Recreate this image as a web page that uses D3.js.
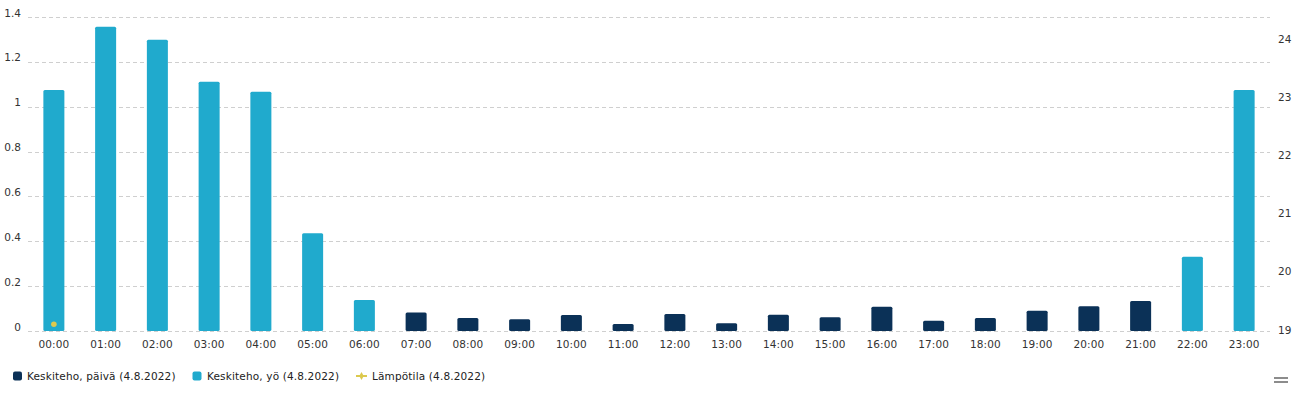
<!DOCTYPE html>
<html>
<head>
<meta charset="utf-8">
<script src="https://cdn.jsdelivr.net/npm/d3@7"></script>
<style>
  html, body { margin: 0; padding: 0; background: #fff; }
  svg { display: block; font-family: "DejaVu Sans", Verdana, sans-serif; }
</style>
</head>
<body>
<svg id="chart" width="1302" height="400"></svg>
<script>
const categories = ["00:00","01:00","02:00","03:00","04:00","05:00","06:00","07:00","08:00","09:00","10:00","11:00",
                    "12:00","13:00","14:00","15:00","16:00","17:00","18:00","19:00","20:00","21:00","22:00","23:00"];
const dayPower   = [null,null,null,null,null,null,null,0.083,0.058,0.052,0.071,0.031,
                    0.076,0.035,0.072,0.061,0.108,0.046,0.058,0.090,0.110,0.134,null,null];
const nightPower = [1.075,1.357,1.299,1.111,1.067,0.436,0.138,null,null,null,null,null,
                    null,null,null,null,null,null,null,null,null,null,0.331,1.075];
const temperature = [19.1,null,null,null,null,null,null,null,null,null,null,null,
                     null,null,null,null,null,null,null,null,null,null,null,null];
const leftTicks  = [0,0.2,0.4,0.6,0.8,1,1.2,1.4];
const rightTicks = [19,20,21,22,23,24];
const seriesNames = ["Keskiteho, päivä (4.8.2022)","Keskiteho, yö (4.8.2022)","Lämpötila (4.8.2022)"];

const colors = { day: "#0b3157", night: "#20aacd", temp: "#dcc94e" };

const svg = d3.select("#chart");
const plotLeft = 28, plotRight = 1270, plotTop = 17, plotBottom = 331;

const x = d3.scaleBand().domain(categories).range([plotLeft, plotRight]).padding(0);
const yL = d3.scaleLinear().domain([0, 1.4]).range([plotBottom, plotTop]);
const yR = d3.scaleLinear().domain([19, 24]).range([plotBottom - 1, plotBottom - 1 - 5 * 58.2]);
const barW = x.bandwidth() * 0.406;
const cx = c => x(c) + x.bandwidth() / 2;

// grid lines
svg.append("g").selectAll("line").data(leftTicks).join("line")
  .attr("x1", plotLeft).attr("x2", plotRight)
  .attr("y1", d => Math.round(yL(d)) + 0.5).attr("y2", d => Math.round(yL(d)) + 0.5)
  .attr("stroke", "#cfcfcf").attr("stroke-width", 1).attr("stroke-dasharray", "4,3");

// left axis labels
svg.append("g").selectAll("text").data(leftTicks).join("text")
  .attr("x", 21).attr("y", d => yL(d) - 0.5)
  .attr("text-anchor", "end").attr("font-size", "10.5px").attr("fill", "#333")
  .text(d => d3.format("~g")(d));

// right axis labels
svg.append("g").selectAll("text").data(rightTicks).join("text")
  .attr("x", 1278).attr("y", d => yR(d)).attr("dy", "0.35em")
  .attr("text-anchor", "start").attr("font-size", "10.5px").attr("fill", "#333")
  .text(d => d);

// x labels
svg.append("g").selectAll("text").data(categories).join("text")
  .attr("x", d => cx(d)).attr("y", 348)
  .attr("text-anchor", "middle").attr("font-size", "10.5px").attr("fill", "#333")
  .attr("letter-spacing", "0.1px")
  .text(d => d);

function drawBars(values, color) {
  const data = categories.map((c, i) => ({ c, v: values[i] })).filter(d => d.v != null);
  svg.append("g").selectAll("rect").data(data).join("rect")
    .attr("x", d => cx(d.c) - barW / 2)
    .attr("width", barW)
    .attr("y", d => yL(d.v))
    .attr("height", d => yL(0) - yL(d.v))
    .attr("rx", 1.5)
    .attr("fill", color);
}
drawBars(dayPower, colors.day);
drawBars(nightPower, colors.night);

// temperature
const tData = categories.map((c, i) => ({ c, v: temperature[i] })).filter(d => d.v != null);
svg.append("path").datum(tData)
  .attr("d", d3.line().x(d => cx(d.c)).y(d => yR(d.v)))
  .attr("fill", "none").attr("stroke", colors.temp).attr("stroke-width", 2);
svg.append("g").selectAll("circle").data(tData).join("circle")
  .attr("cx", d => cx(d.c)).attr("cy", d => yR(d.v)).attr("r", 2.8)
  .attr("fill", colors.temp);

// legend
const legY = 376;
const lg = svg.append("g").attr("font-size", "10.5px").attr("fill", "#222").attr("letter-spacing", "0.15px");
lg.append("rect").attr("x", 13).attr("y", legY - 4.5).attr("width", 9).attr("height", 9).attr("rx", 2).attr("fill", colors.day);
lg.append("text").attr("x", 27).attr("y", legY).attr("dy", "0.35em").text(seriesNames[0]);
lg.append("rect").attr("x", 192.5).attr("y", legY - 4.5).attr("width", 9).attr("height", 9).attr("rx", 2).attr("fill", colors.night);
lg.append("text").attr("x", 207).attr("y", legY).attr("dy", "0.35em").text(seriesNames[1]);
lg.append("line").attr("x1", 356).attr("x2", 367).attr("y1", legY).attr("y2", legY)
  .attr("stroke", colors.temp).attr("stroke-width", 2);
lg.append("path").attr("d", d3.symbol().type(d3.symbolDiamond).size(18)())
  .attr("transform", `translate(361.5,${legY})`).attr("fill", colors.temp);
lg.append("text").attr("x", 372).attr("y", legY).attr("dy", "0.35em").text(seriesNames[2]);

// menu icon
svg.append("g").selectAll("line").data([378, 382]).join("line")
  .attr("x1", 1274).attr("x2", 1288).attr("y1", d => d).attr("y2", d => d)
  .attr("stroke", "#666").attr("stroke-width", 1.5);
</script>
</body>
</html>
